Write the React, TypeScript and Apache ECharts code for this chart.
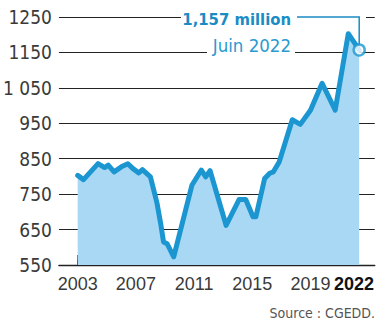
import React, { useEffect, useRef } from "react";
import * as echarts from "echarts";

// ---- data ----
const years = [
  2003.0, 2003.4, 2004.4, 2004.85, 2005.1, 2005.5, 2006.0, 2006.45, 2006.8, 2007.2,
  2007.45, 2008.0, 2008.45, 2008.7, 2008.9, 2009.15, 2009.6, 2010.85, 2011.5, 2011.8,
  2012.1, 2013.2, 2014.1, 2014.55, 2015.05, 2015.25, 2015.85, 2016.2, 2016.45, 2016.85,
  2017.75, 2018.3, 2019.0, 2019.8, 2020.7, 2021.6, 2022.35,
];
const values = [
  803, 791, 836, 825, 832, 813, 827, 836, 822, 810,
  819, 799, 725, 668, 615, 610, 573, 775, 818, 799,
  816, 662, 735, 735, 686, 686, 794, 809, 813, 841,
  960, 947, 987, 1063, 987, 1203, 1157,
];
const majorYears = [2003, 2007, 2011, 2015, 2019, 2022];
const labelYears = [2003, 2007, 2011, 2015, 2019];
const boldYear = [2022];
const allYears = [
  2003, 2004, 2005, 2006, 2007, 2008, 2009, 2010, 2011, 2012,
  2013, 2014, 2015, 2016, 2017, 2018, 2019, 2020, 2021, 2022,
];
const yTickValues = [550, 650, 750, 850, 950, 1050, 1150, 1250];
const yTickLabels = ["550", "650", "750", "850", "950", "1 050", "1150", "1250"];
const highlightLabel = "1,157 million";
const highlightDate = "Juin 2022";
const sourceText = "Source : CGEDD.";

const FONT = "'Liberation Sans Narrow', 'DejaVu Sans Condensed', 'Liberation Sans', sans-serif";
const XFONT = "'Liberation Sans', sans-serif";
const LINE = "#1b96d1";
const AREA = "#a8d8f4";
const ANNOT = "#1a8cc4";

export default function App() {
  const ref = useRef<HTMLDivElement>(null);
  useEffect(() => {
    if (!ref.current) return;
    const chart = echarts.init(ref.current, null, { renderer: "svg" });
    const seriesData = years.map((y, i) => [y, values[i]]);
    const last = seriesData[seriesData.length - 1];
    const xMin = 2001.71;
    const xMax = 2023.42;
    const yearFmt = (v: number) => String(Math.round(v));
    chart.setOption({
      animation: false,
      backgroundColor: "#fff",
      grid: { left: 57, right: 0, top: 17, bottom: 57, containLabel: false },
      xAxis: [
        {
          type: "value",
          min: xMin,
          max: xMax,
          position: "bottom",
          splitLine: { show: false },
          axisLine: { show: true, lineStyle: { color: "#222", width: 1.4 } },
          axisTick: {
            show: true,
            inside: true,
            length: 10,
            customValues: majorYears,
            lineStyle: { color: "#222", width: 1.5 },
          },
          axisLabel: {
            show: true,
            customValues: labelYears,
            hideOverlap: false,
            margin: 10,
            fontFamily: XFONT,
            fontSize: 18,
            color: "#3a3a3a",
            formatter: yearFmt,
          },
        },
        {
          type: "value",
          min: xMin,
          max: xMax,
          position: "bottom",
          splitLine: { show: false },
          axisLine: { show: false },
          axisTick: {
            show: true,
            inside: true,
            length: 5,
            customValues: allYears,
            lineStyle: { color: "#222", width: 1.5 },
          },
          axisLabel: {
            show: true,
            customValues: boldYear,
            margin: 10,
            fontFamily: XFONT,
            fontSize: 18,
            fontWeight: "bold",
            color: "#111",
            formatter: yearFmt,
          },
        },
      ],
      yAxis: {
        type: "value",
        min: 550,
        max: 1250,
        interval: 100,
        axisLine: { show: false },
        axisTick: { show: false },
        splitLine: { show: true, lineStyle: { color: "#222", width: 1.2 } },
        axisLabel: {
          margin: 7,
          fontFamily: FONT,
          fontSize: 19,
          color: "#3a3a3a",
          formatter: (v: number) => {
            const i = yTickValues.indexOf(v);
            return i >= 0 ? yTickLabels[i] : String(v);
          },
        },
      },
      series: [
        {
          type: "line",
          xAxisIndex: 0,
          data: seriesData,
          symbol: "none",
          lineStyle: { color: LINE, width: 5, join: "round", cap: "round" },
          areaStyle: { color: AREA, opacity: 1, origin: "start" },
          z: 3,
        },
        {
          type: "scatter",
          xAxisIndex: 0,
          data: [last],
          symbol: "circle",
          symbolSize: 11,
          itemStyle: { color: "#fff", borderColor: LINE, borderWidth: 2.5 },
          z: 5,
        },
      ],
    });
    const p = chart.convertToPixel({ gridIndex: 0 }, last) as number[];
    const topY = chart.convertToPixel({ yAxisIndex: 0 }, 1250) as number;
    chart.setOption({
      graphic: [
        { type: "rect", shape: { x: 181, y: 9, width: 185, height: 15 }, style: { fill: "#fff" }, z: 10 },
        { type: "rect", shape: { x: 207, y: 46, width: 88, height: 12 }, style: { fill: "#fff" }, z: 10 },
        {
          type: "polyline",
          shape: { points: [[297, topY], [p[0], topY], [p[0], p[1] - 5.5]] },
          style: { stroke: ANNOT, lineWidth: 1.5, fill: "none" },
          z: 11,
        },
        {
          type: "text",
          x: 291,
          y: 19,
          style: {
            text: highlightLabel,
            fill: ANNOT,
            font: "bold 16.5px " + FONT,
            align: "right",
            verticalAlign: "middle",
          },
          z: 12,
        },
        {
          type: "text",
          x: 291,
          y: 45,
          style: {
            text: highlightDate,
            fill: "#2a9ad0",
            font: "18.5px " + FONT,
            align: "right",
            verticalAlign: "middle",
          },
          z: 12,
        },
        {
          type: "text",
          x: 375,
          y: 313,
          style: {
            text: sourceText,
            fill: "#555",
            font: "14px " + FONT,
            align: "right",
            verticalAlign: "middle",
          },
          z: 12,
        },
      ],
    });
    return () => chart.dispose();
  }, []);
  return (
    <div
      ref={ref}
      style={{ position: "absolute", left: 0, top: 0, width: 377, height: 322 }}
    />
  );
}
